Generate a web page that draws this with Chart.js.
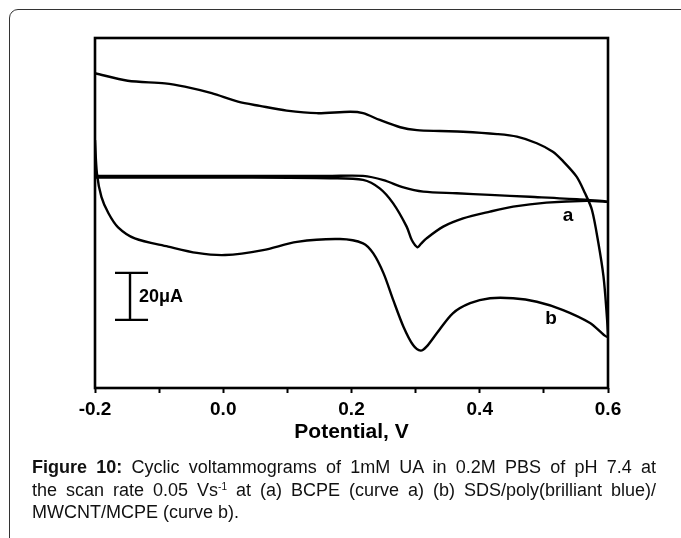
<!DOCTYPE html>
<html>
<head>
<meta charset="utf-8">
<script src="https://cdn.jsdelivr.net/npm/chart.js@4.4.1/dist/chart.umd.min.js"></script>
<style>
  body { margin: 0; background: #fff; width: 681px; height: 538px; overflow: hidden; position: relative; font-family: "Liberation Sans", Arial, sans-serif; }
  #marco { position: absolute; left: 9px; top: 9px; width: 720px; height: 600px; border: 1.5px solid #333; border-radius: 9px; }
  #grafico { position: absolute; left: 0; top: 0; }
  #pie { position: absolute; left: 32px; top: 456px; width: 624px; font-size: 18px; line-height: 22.5px; color: #111; }
  #pie .linea { text-align: justify; text-align-last: justify; white-space: nowrap; }
  #pie .ultima { text-align: left; }
  #pie sup { font-size: 10px; vertical-align: 6px; line-height: 0; }
</style>
</head>
<body>
<div id="marco"></div>
<canvas id="grafico" width="681" height="460"></canvas>
<div id="pie">
  <div class="linea" style="white-space: normal;"><b>Figure 10:</b> Cyclic voltammograms of 1mM UA in 0.2M PBS of pH 7.4 at</div>
  <div class="linea" style="white-space: normal;">the scan rate 0.05 Vs<sup>-1</sup> at (a) BCPE (curve a) (b) SDS/poly(brilliant blue)/</div>
  <div class="ultima">MWCNT/MCPE (curve b).</div>
</div>
<script>
// Curva a: BCPE (barrido de ida y vuelta)
var potencialA = [-0.2, -0.114, 0.042, 0.167, 0.218, 0.244, 0.265, 0.286, 0.294, 0.303, 0.308, 0.317, 0.343, 0.374, 0.416, 0.452, 0.504, 0.567, 0.6,
                  0.556, 0.478, 0.416, 0.364, 0.312, 0.281, 0.25, 0.218, 0.167, 0.042, -0.2];
var corrienteA = [-0.4, -0.4, -0.4, -0.7, -1.4, -5.0, -11.4, -21.3, -27.0, -30.1, -28.7, -26.3, -21.3, -17.8, -14.9, -12.8, -11.1, -10.3, -10.7,
                  -9.7, -8.6, -7.8, -7.1, -6.4, -4.6, -1.5, 0.3, 0.3, 0.3, 0.3];

// Curva b: SDS/poly(brilliant blue)/MWCNT/MCPE
var potencialB = [-0.2, -0.197, -0.19, -0.179, -0.164, -0.138, -0.086, -0.041, 0.003, 0.062, 0.115, 0.182, 0.218, 0.234, 0.25, 0.265, 0.281, 0.296,
                  0.308, 0.317, 0.333, 0.358, 0.385, 0.416, 0.452, 0.489, 0.53, 0.572, 0.6,
                  0.5975, 0.593, 0.585, 0.575, 0.564, 0.551, 0.528, 0.514, 0.489, 0.458, 0.427, 0.374, 0.338, 0.302, 0.276, 0.244, 0.218,
                  0.198, 0.146, 0.099, 0.057, 0.023, -0.018, -0.06, -0.091, -0.149, -0.2];
var corrienteB = [15.6, 1.4, -8.6, -15.6, -21.6, -26.3, -29.8, -32.5, -33.4, -31.3, -27.8, -26.6, -28.4, -32.7, -41.2, -52.5, -63.9, -71.7,
                  -74.1, -72.4, -66.7, -58.2, -53.9, -51.8, -51.8, -53.3, -56.8, -62.3, -68.2,
                  -56.8, -42.6, -28.3, -14.2, -7.0, 0.0, 7.1, 10.6, 14.2, 17.0, 18.1, 19.1, 19.4, 19.8, 21.0, 24.1, 27.0,
                  27.6, 27.0, 28.1, 30.1, 31.9, 35.5, 38.3, 39.7, 40.8, 44.0];

// Eje X
var ticksX = [-0.2, 0.0, 0.2, 0.4, 0.6];
var tituloX = 'Potential, V';

// Barra de escala (uA) y etiquetas de curvas
var escalaValor = 20;
var escalaTexto = '20\u03bcA';
var etiquetasCurvas = ['a', 'b'];

function armarPuntos(xs, ys) {
    var puntos = [];
    for (var i = 0; i < xs.length; i++) {
        puntos.push({ x: xs[i], y: ys[i] });
    }
    return puntos;
}

var fuente = '"Liberation Sans", Arial, sans-serif';

// Dibuja el marco, la barra de escala y las letras a / b
var extras = {
    id: 'extras',
    afterDatasetsDraw: function (chart) {
        var ctx = chart.ctx;
        var area = chart.chartArea;
        var sx = chart.scales.x;
        var sy = chart.scales.y;
        ctx.save();
        ctx.strokeStyle = '#000';
        ctx.lineWidth = 2.6;
        ctx.strokeRect(area.left, area.top, area.right - area.left, area.bottom - area.top);

        // barra de escala
        var xb = sx.getPixelForValue(-0.1454);
        var y1 = sy.getPixelForValue(-41);
        var y2 = sy.getPixelForValue(-41 - escalaValor);
        var xc1 = sx.getPixelForValue(-0.1688);
        var xc2 = sx.getPixelForValue(-0.1173);
        ctx.lineWidth = 2.4;
        ctx.beginPath();
        ctx.moveTo(xb, y1); ctx.lineTo(xb, y2);
        ctx.moveTo(xc1, y1); ctx.lineTo(xc2, y1);
        ctx.moveTo(xc1, y2); ctx.lineTo(xc2, y2);
        ctx.stroke();

        ctx.fillStyle = '#000';
        ctx.font = 'bold 18px ' + fuente;
        ctx.textBaseline = 'middle';
        ctx.textAlign = 'left';
        ctx.fillText(escalaTexto, sx.getPixelForValue(-0.1314), sy.getPixelForValue(-51.3));

        ctx.textAlign = 'center';
        ctx.font = 'bold 19px ' + fuente;
        ctx.fillText(etiquetasCurvas[0], sx.getPixelForValue(0.5376), sy.getPixelForValue(-16.8));
        ctx.fillText(etiquetasCurvas[1], sx.getPixelForValue(0.5111), sy.getPixelForValue(-60.6));
        ctx.restore();
    }
};

var estiloLinea = {
    borderColor: '#000',
    borderWidth: 2.4,
    pointRadius: 0,
    showLine: true,
    fill: false,
    tension: 0.3
};

new Chart(document.getElementById('grafico').getContext('2d'), {
    type: 'scatter',
    data: {
        datasets: [
            Object.assign({ label: 'a', data: armarPuntos(potencialA, corrienteA) }, estiloLinea),
            Object.assign({ label: 'b', data: armarPuntos(potencialB, corrienteB) }, estiloLinea)
        ]
    },
    options: {
        responsive: false,
        animation: false,
        layout: { padding: { left: 95, right: 73, top: 38, bottom: 0 } },
        plugins: { legend: { display: false }, tooltip: { enabled: false } },
        scales: {
            x: {
                type: 'linear',
                min: -0.2,
                max: 0.6,
                afterFit: function (scale) { scale.height = 72; },
                afterBuildTicks: function (scale) {
                    var t = [];
                    for (var i = 0; i <= 8; i++) t.push({ value: -0.2 + i * 0.1 });
                    scale.ticks = t;
                },
                border: { display: false },
                grid: { drawOnChartArea: false, drawTicks: true, tickLength: 5, tickWidth: 2, color: '#000' },
                ticks: {
                    autoSkip: false,
                    maxRotation: 0,
                    padding: 5,
                    color: '#000',
                    font: { family: fuente, size: 19, weight: 'bold' },
                    callback: function (value) {
                        var k = Math.round((value + 0.2) * 10);
                        if (k % 2 !== 0) return '';
                        return ticksX[k / 2].toFixed(1);
                    }
                },
                title: {
                    display: true,
                    text: tituloX,
                    color: '#000',
                    font: { family: fuente, size: 21, weight: 'bold' },
                    padding: { top: 0, bottom: 15 }
                }
            },
            y: {
                display: false,
                min: -90,
                max: 59
            }
        }
    },
    plugins: [extras]
});
</script>
</body>
</html>
